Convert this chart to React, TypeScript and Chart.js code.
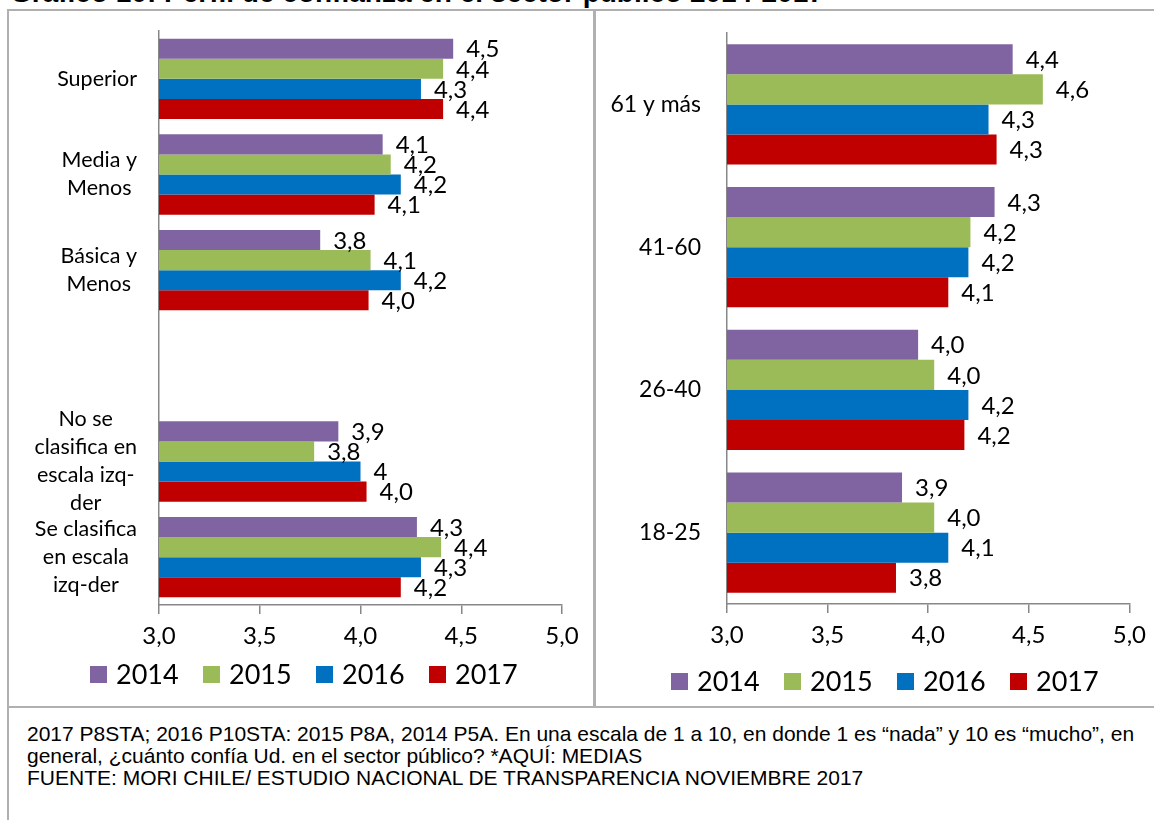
import React, { useEffect, useRef } from "react";
import { Chart, registerables } from "chart.js";

Chart.register(...registerables);

const seriesNames = ["2014", "2015", "2016", "2017"];
const seriesColors = ["#8064A2", "#9BBB59", "#0070C0", "#C00000"];

const xTickValues = [3, 3.5, 4, 4.5, 5];
const xTickLabels = ["3,0", "3,5", "4,0", "4,5", "5,0"];

// Left panel: education level / ideological self-placement
const leftCategories: string[][] = [
  ["Superior"],
  ["Media y", "Menos"],
  ["Básica y", "Menos"],
  [""],
  ["No se", "clasifica en", "escala izq-", "der"],
  ["Se clasifica", "en escala", "izq-der"],
];
const left2014 = [4.46, 4.11, 3.8, null, 3.89, 4.28];
const left2015 = [4.41, 4.15, 4.05, null, 3.77, 4.4];
const left2016 = [4.3, 4.2, 4.2, null, 4.0, 4.3];
const left2017 = [4.41, 4.07, 4.04, null, 4.03, 4.2];
const leftLabels2014 = ["4,5", "4,1", "3,8", "", "3,9", "4,3"];
const leftLabels2015 = ["4,4", "4,2", "4,1", "", "3,8", "4,4"];
const leftLabels2016 = ["4,3", "4,2", "4,2", "", "4", "4,3"];
const leftLabels2017 = ["4,4", "4,1", "4,0", "", "4,0", "4,2"];

// Right panel: age groups
const rightCategories: string[][] = [["61 y más"], ["41-60"], ["26-40"], ["18-25"]];
const right2014 = [4.42, 4.33, 3.95, 3.87];
const right2015 = [4.57, 4.21, 4.03, 4.03];
const right2016 = [4.3, 4.2, 4.2, 4.1];
const right2017 = [4.34, 4.1, 4.18, 3.84];
const rightLabels2014 = ["4,4", "4,3", "4,0", "3,9"];
const rightLabels2015 = ["4,6", "4,2", "4,0", "4,0"];
const rightLabels2016 = ["4,3", "4,2", "4,2", "4,1"];
const rightLabels2017 = ["4,3", "4,1", "4,2", "3,8"];

const titleText = "Gráfico 10: Perfil de confianza en el sector público 2014-2017";
const footerLines = [
  "2017 P8STA; 2016 P10STA: 2015 P8A, 2014 P5A. En una escala de 1 a 10, en donde 1 es “nada” y 10 es “mucho”, en",
  "general, ¿cuánto confía Ud. en el sector público? *AQUÍ: MEDIAS",
  "FUENTE: MORI CHILE/ ESTUDIO NACIONAL DE TRANSPARENCIA NOVIEMBRE 2017",
];

const FONT = "Lato, 'Open Sans', sans-serif";
const AXIS_COLOR = "#878787";

type PanelProps = {
  categories: string[][];
  values: (number | null)[][];
  labels: string[][];
  width: number;
  height: number;
  yWidth: number;
  padRight: number;
  padTop: number;
  padBottom: number;
  xHeight: number;
  labelGap: number;
  labelFont: number;
  barFraction: number;
};

const valueLabelPlugin = {
  id: "valueLabels",
  afterDatasetsDraw(chart: any, _args: any, opts: any) {
    const ctx = chart.ctx;
    ctx.save();
    ctx.font = `24px ${FONT}`;
    ctx.fillStyle = "#000";
    ctx.textAlign = "left";
    ctx.textBaseline = "middle";
    chart.data.datasets.forEach((ds: any, i: number) => {
      const meta = chart.getDatasetMeta(i);
      meta.data.forEach((el: any, j: number) => {
        const txt = opts.labels[i][j];
        if (!txt || ds.data[j] == null) return;
        ctx.fillText(txt, el.x + 13, el.y + 1);
      });
    });
    ctx.restore();
  },
};

const categoryLabelPlugin = {
  id: "categoryLabels",
  afterDraw(chart: any, _args: any, opts: any) {
    const ctx = chart.ctx;
    const yScale = chart.scales.y;
    const lh = 28;
    ctx.save();
    ctx.font = `${opts.size}px ${FONT}`;
    ctx.fillStyle = "#000";
    ctx.textAlign = "center";
    ctx.textBaseline = "middle";
    (chart.data.labels as string[][]).forEach((lines, idx) => {
      const cy = yScale.getPixelForValue(idx);
      const maxW = Math.max(...lines.map((l) => ctx.measureText(l).width));
      const cx = yScale.right - opts.gap - maxW / 2;
      lines.forEach((l, k) => {
        ctx.fillText(l, cx, cy + (k - (lines.length - 1) / 2) * lh);
      });
    });
    ctx.restore();
  },
};

function Panel(p: PanelProps) {
  const ref = useRef<HTMLCanvasElement | null>(null);
  useEffect(() => {
    if (!ref.current) return;
    const chart = new Chart(ref.current, {
      type: "bar",
      data: {
        labels: p.categories as any,
        datasets: seriesNames.map((name, i) => ({
          label: name,
          data: p.values[i] as any,
          backgroundColor: seriesColors[i],
          borderColor: seriesColors[i],
          borderWidth: 0,
          categoryPercentage: p.barFraction,
          barPercentage: 1,
        })),
      },
      options: {
        indexAxis: "y",
        responsive: false,
        animation: false,
        devicePixelRatio: 1,
        layout: { padding: { top: p.padTop, right: p.padRight, left: 0, bottom: p.padBottom } },
        scales: {
          x: {
            min: 3,
            max: 5,
            afterFit: (s: any) => {
              s.height = p.xHeight;
            },
            ticks: {
              stepSize: 0.5,
              padding: 8,
              color: "#000",
              font: { family: FONT, size: 24 },
              maxRotation: 0,
              callback: (v: any) => {
                const i = xTickValues.indexOf(Number(v));
                return i >= 0 ? xTickLabels[i] : "";
              },
            },
            grid: {
              display: true,
              drawOnChartArea: false,
              drawTicks: true,
              tickLength: 9,
              color: AXIS_COLOR,
              lineWidth: 1.5,
            },
            border: { display: true, color: AXIS_COLOR, width: 1.5 },
          },
          y: {
            afterFit: (s: any) => {
              s.width = p.yWidth;
            },
            ticks: { display: false },
            grid: { display: false },
            border: { display: true, color: AXIS_COLOR, width: 1.5 },
          },
        },
        plugins: {
          legend: { display: false },
          tooltip: { enabled: false },
          valueLabels: { labels: p.labels },
          categoryLabels: { gap: p.labelGap, size: p.labelFont },
        } as any,
      },
      plugins: [valueLabelPlugin, categoryLabelPlugin],
    });
    return () => chart.destroy();
  }, []);
  return (
    <canvas
      ref={ref}
      width={p.width}
      height={p.height}
      style={{ width: p.width, height: p.height, display: "block" }}
    />
  );
}

function Legend({ left, centerY }: { left: number; centerY: number }) {
  return (
    <div
      style={{
        position: "absolute",
        left,
        top: centerY - 17,
        height: 34,
        display: "flex",
        alignItems: "center",
        font: `27px ${FONT}`,
        color: "#000",
        whiteSpace: "nowrap",
      }}
    >
      {seriesNames.map((n, i) => (
        <div key={n} style={{ width: 113, display: "flex", alignItems: "center" }}>
          <span
            style={{
              display: "inline-block",
              width: 17,
              height: 17,
              background: seriesColors[i],
              marginRight: 9,
            }}
          />
          <span style={{ lineHeight: "34px" }}>{n}</span>
        </div>
      ))}
    </div>
  );
}

export default function App() {
  const border = "#b0b0b0";
  return (
    <div
      style={{
        position: "absolute",
        left: 0,
        top: 0,
        width: 1154,
        height: 820,
        overflow: "hidden",
        background: "#fff",
      }}
    >
      <div
        style={{
          position: "absolute",
          left: 10,
          top: -21,
          font: "bold 28px 'Liberation Sans', Arial, sans-serif",
          lineHeight: "28px",
          whiteSpace: "nowrap",
          color: "#000",
        }}
      >
        {titleText}
      </div>
      <div
        style={{
          position: "absolute",
          left: 7,
          top: 9,
          width: 1170,
          height: 840,
          border: `2px solid ${border}`,
          boxSizing: "border-box",
        }}
      />
      <div style={{ position: "absolute", left: 593, top: 9, width: 3, height: 699, background: border }} />
      <div style={{ position: "absolute", left: 7, top: 706, width: 1160, height: 2, background: border }} />
      <div style={{ position: "absolute", left: 9, top: 11 }}>
        <Panel
          categories={leftCategories}
          values={[left2014, left2015, left2016, left2017]}
          labels={[leftLabels2014, leftLabels2015, leftLabels2016, leftLabels2017]}
          width={584}
          height={695}
          yWidth={150}
          padRight={31}
          padTop={20}
          padBottom={59}
          xHeight={42}
          labelGap={22}
          labelFont={21.5}
          barFraction={0.84}
        />
      </div>
      <div style={{ position: "absolute", left: 596, top: 11 }}>
        <Panel
          categories={rightCategories}
          values={[right2014, right2015, right2016, right2017]}
          labels={[rightLabels2014, rightLabels2015, rightLabels2016, rightLabels2017]}
          width={558}
          height={695}
          yWidth={131}
          padRight={22}
          padTop={22}
          padBottom={60}
          xHeight={42}
          labelGap={26}
          labelFont={23}
          barFraction={0.843}
        />
      </div>
      <Legend left={90} centerY={674} />
      <Legend left={671} centerY={681} />
      <div
        style={{
          position: "absolute",
          left: 27,
          top: 723,
          font: "21px 'Liberation Sans', Arial, sans-serif",
          lineHeight: "22px",
          color: "#000",
          whiteSpace: "nowrap",
        }}
      >
        {footerLines.map((l, i) => (
          <div key={i}>{l}</div>
        ))}
      </div>
    </div>
  );
}
